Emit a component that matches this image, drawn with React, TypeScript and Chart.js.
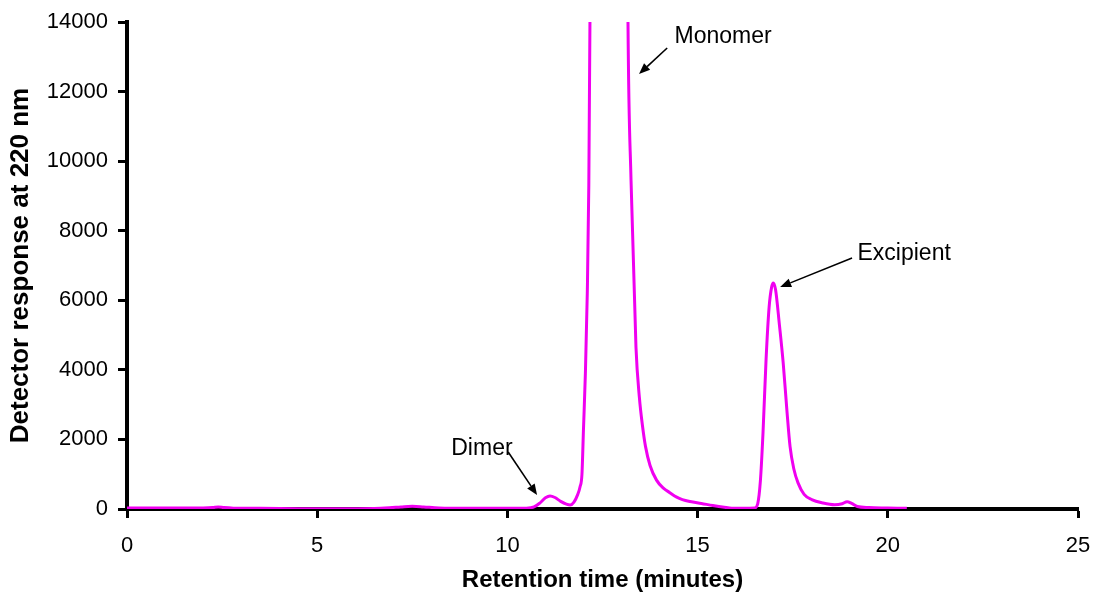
import React, { useEffect, useRef } from "react";
import { Chart, registerables } from "chart.js";

Chart.register(...registerables);

// Retention time (minutes)
const retentionTimes = [
  0, 0.5, 1.0, 1.5, 2.0, 2.25, 2.4, 2.55, 2.8, 3.5, 4.5, 5.5, 6.5, 6.9, 7.2, 7.5, 7.8, 8.2, 9.0, 10.0,
  10.5, 10.7, 10.85, 11.0, 11.12, 11.25, 11.4, 11.55, 11.65, 11.75, 11.85, 11.91, 11.96, 12.0, 12.05,
  12.1, 12.14, 12.17, 12.2, 12.67, 13.14, 13.17, 13.25, 13.38, 13.47, 13.55, 13.63, 13.75, 13.92, 14.1,
  14.27, 14.45, 14.6, 14.8, 15.1, 15.4, 15.7, 15.9, 16.2, 16.5, 16.58, 16.65, 16.72, 16.8, 16.88, 16.95,
  16.99, 17.05, 17.15, 17.25, 17.35, 17.43, 17.53, 17.64, 17.8, 18.0, 18.3, 18.6, 18.8, 18.93, 19.05,
  19.2, 19.5, 20.0, 20.5,
];

// Detector response at 220 nm
const detectorResponse = [
  30, 30, 30, 28, 30, 40, 60, 40, 25, 20, 10, 8, 15, 35, 60, 80, 60, 30, 20, 20,
  25, 60, 170, 320, 374, 330, 220, 140, 115, 200, 420, 640, 1000, 2300, 3900,
  6200, 9300, 14000, 20000, 50000, 20000, 14000, 9450, 4650, 3200, 2400, 1800, 1250, 830, 600,
  470, 340, 270, 215, 160, 100, 50, 25, 25, 30, 150, 800, 2200, 4300, 5800, 6400,
  6500, 6300, 5300, 4200, 2800, 1800, 1150, 750, 420, 270, 170, 120, 150, 210, 160,
  70, 40, 30, 20,
];

const xTickValues = [0, 5, 10, 15, 20, 25];
const yTickValues = [0, 2000, 4000, 6000, 8000, 10000, 12000, 14000];

// Peak annotations (positions in data units)
const peakNames = ["Monomer", "Excipient", "Dimer"];
const peakLabelX = [15.67, 20.43, 9.33];
const peakLabelY = [13570, 7331, 1725];
const arrowStartX = [14.2, 19.06, 10.02];
const arrowStartY = [13253, 7216, 1639];
const arrowEndX = [13.46, 17.17, 10.78];
const arrowEndY = [12505, 6382, 402];

const FONT = '"Liberation Sans", Arial, Helvetica, sans-serif';

const annotationPlugin = {
  id: "peakAnnotations",
  afterDatasetsDraw(chart: any) {
    const { ctx, scales } = chart;
    const xs = scales.x;
    const ys = scales.y;
    ctx.save();
    ctx.fillStyle = "#000";
    ctx.strokeStyle = "#000";
    ctx.font = `23px ${FONT}`;
    ctx.textAlign = "center";
    ctx.textBaseline = "middle";
    peakNames.forEach((name, i) => {
      const tx = xs.getPixelForValue(peakLabelX[i]);
      const ty = ys.getPixelForValue(peakLabelY[i]);
      ctx.fillText(name, tx, ty);
      const x1 = xs.getPixelForValue(arrowStartX[i]);
      const y1 = ys.getPixelForValue(arrowStartY[i]);
      const x2 = xs.getPixelForValue(arrowEndX[i]);
      const y2 = ys.getPixelForValue(arrowEndY[i]);
      const ang = Math.atan2(y2 - y1, x2 - x1);
      const headLen = 11;
      const headW = 4.5;
      const bx = x2 - headLen * Math.cos(ang);
      const by = y2 - headLen * Math.sin(ang);
      ctx.lineWidth = 1.6;
      ctx.beginPath();
      ctx.moveTo(x1, y1);
      ctx.lineTo(bx, by);
      ctx.stroke();
      ctx.beginPath();
      ctx.moveTo(x2, y2);
      ctx.lineTo(bx + headW * Math.sin(ang), by - headW * Math.cos(ang));
      ctx.lineTo(bx - headW * Math.sin(ang), by + headW * Math.cos(ang));
      ctx.closePath();
      ctx.fill();
    });
    ctx.restore();
  },
};

export default function App() {
  const canvasRef = useRef<HTMLCanvasElement | null>(null);

  useEffect(() => {
    if (!canvasRef.current) return;
    const points = retentionTimes.map((t, i) => ({ x: t, y: detectorResponse[i] }));
    const chart = new Chart(canvasRef.current, {
      type: "line",
      data: {
        datasets: [
          {
            label: "Chromatogram",
            data: points,
            borderColor: "#F000F0",
            borderWidth: 3,
            pointRadius: 0,
            fill: false,
            cubicInterpolationMode: "monotone",
          },
        ],
      },
      options: {
        animation: false,
        responsive: true,
        maintainAspectRatio: false,
        layout: { padding: { top: 22, right: 18, left: 0, bottom: 0 } },
        plugins: {
          legend: { display: false },
          tooltip: { enabled: false },
        },
        scales: {
          x: {
            type: "linear",
            min: 0,
            max: 25,
            z: 1,
            afterBuildTicks: (scale: any) => {
              scale.ticks = xTickValues.map((v) => ({ value: v }));
            },
            afterFit: (scale: any) => {
              scale.height = 83;
              scale.paddingLeft = 0;
              scale.paddingRight = 0;
            },
            grid: {
              drawOnChartArea: false,
              drawTicks: true,
              tickLength: 9,
              tickWidth: 3,
              tickColor: "#000",
            },
            border: { display: true, color: "#000", width: 4 },
            ticks: {
              color: "#000",
              font: { family: FONT, size: 22 },
              padding: 15,
              maxRotation: 0,
            },
            title: {
              display: true,
              text: "Retention time (minutes)",
              color: "#000",
              font: { family: FONT, size: 24, weight: "bold", lineHeight: 1 },
              padding: { top: 0, bottom: 0 },
            },
          },
          y: {
            type: "linear",
            min: 0,
            max: 14000,
            z: 1,
            afterBuildTicks: (scale: any) => {
              scale.ticks = yTickValues.map((v) => ({ value: v }));
            },
            afterFit: (scale: any) => {
              scale.width = 127;
              scale.paddingTop = 0;
              scale.paddingBottom = 0;
            },
            grid: {
              drawOnChartArea: false,
              drawTicks: true,
              tickLength: 9,
              tickWidth: 3,
              tickColor: "#000",
            },
            border: { display: true, color: "#000", width: 4 },
            ticks: {
              color: "#000",
              font: { family: FONT, size: 22 },
              padding: 10,
              callback: (v: any) => String(v),
            },
            title: {
              display: true,
              text: "Detector response at 220 nm",
              color: "#000",
              font: { family: FONT, size: 26, weight: "bold", lineHeight: 1 },
              padding: { top: 8, bottom: 0 },
            },
          },
        },
      },
      plugins: [annotationPlugin],
    });
    return () => chart.destroy();
  }, []);

  return (
    <div style={{ position: "fixed", left: 0, top: 0, width: 1096, height: 592, background: "#fff" }}>
      <canvas ref={canvasRef} />
    </div>
  );
}
